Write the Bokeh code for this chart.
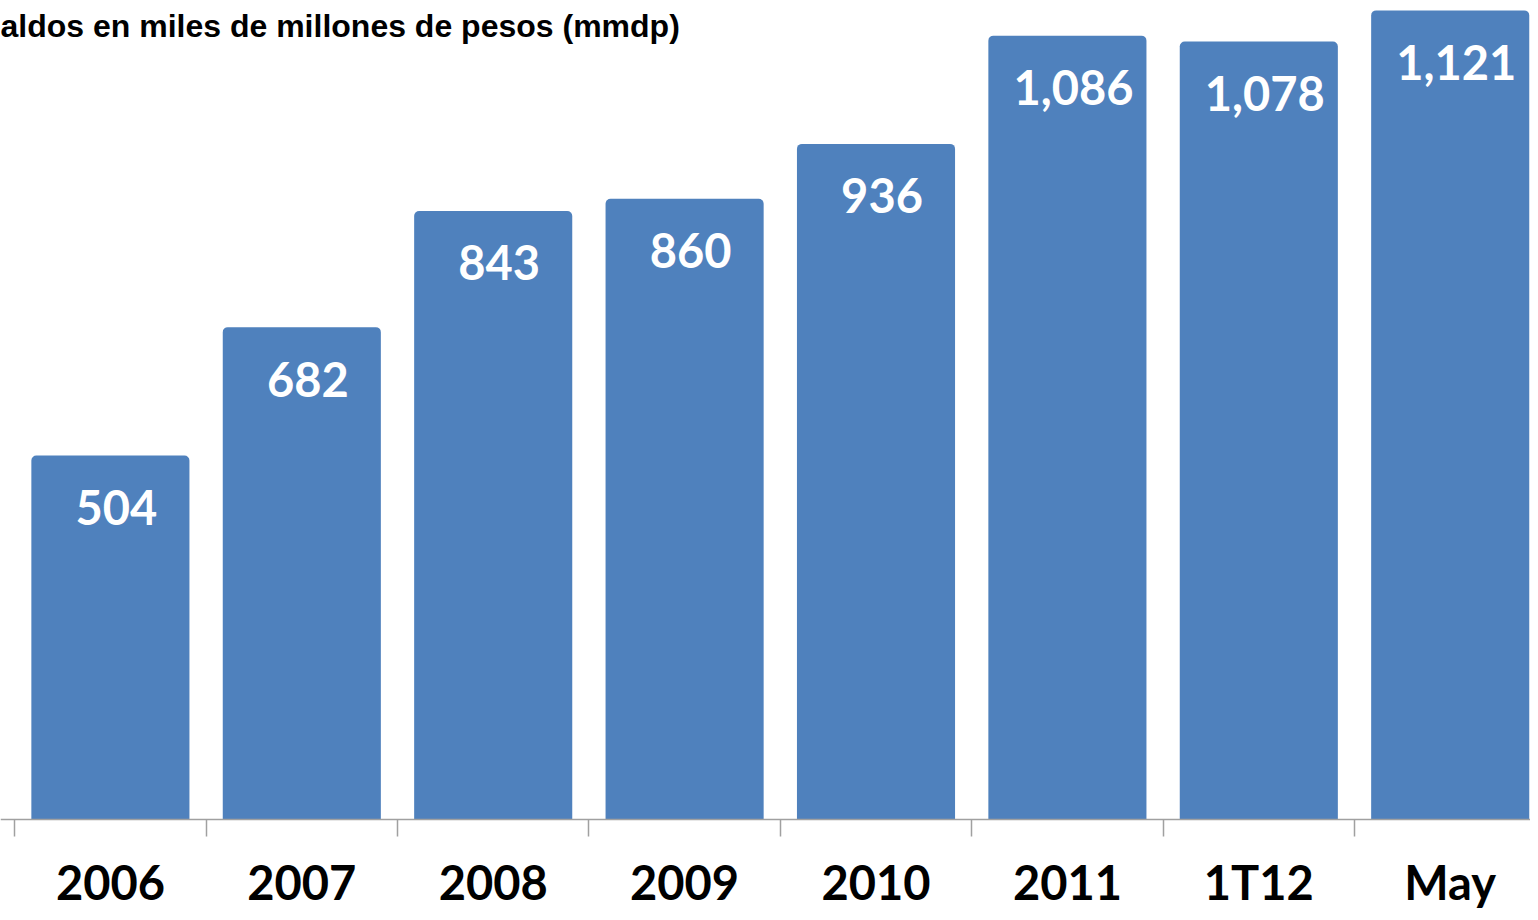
from bokeh.plotting import figure
from bokeh.models import ColumnDataSource, FixedTicker, Range1d
from bokeh.core.properties import value
from bokeh.embed import file_html
from bokeh.resources import INLINE

categories = ["2006", "2007", "2008", "2009", "2010", "2011", "1T12", "May"]
saldos = [504, 682, 843, 860, 936, 1086, 1078, 1121]
value_labels = ["504", "682", "843", "860", "936", "1,086", "1,078", "1,121"]
title_text = "aldos en miles de millones de pesos (mmdp)"

xs = list(range(len(categories)))
src = ColumnDataSource(dict(x=xs, top=saldos, lab=value_labels))

W, H = 1530, 912
X0, X1 = -0.5742, 7.4195
Y0, Y1 = -129.2, 1134.7
p = figure(width=W, height=H, output_backend="svg", toolbar_location=None,
           x_range=Range1d(X0, X1), y_range=Range1d(Y0, Y1),
           min_border_left=0, min_border_right=0, min_border_top=0,
           min_border_bottom=0)
p.outline_line_color = None
p.background_fill_color = "white"
p.border_fill_color = "white"
p.xgrid.visible = False
p.ygrid.visible = False
p.yaxis.visible = False

p.vbar(x="x", top="top", bottom=0, width=0.826, source=src,
       fill_color="#4F81BD", line_color=None, border_radius=(5, 5, 0, 0))

p.text(x="x", y="top", text="lab", source=src, text_color="white",
       text_font=value("Lato"), text_font_style="bold", text_font_size="47px",
       text_align="center", text_baseline="middle", x_offset=6, y_offset=52)

# title (partially cropped at left in the original)
p.text(x=[X0], y=[1098.7], text=[title_text], text_color="black",
       text_font=value("Liberation Sans"), text_font_style="bold",
       text_font_size="32px", text_align="left", text_baseline="middle")

ax = p.xaxis[0]
ax.fixed_location = 0
ax.ticker = FixedTicker(ticks=xs, minor_ticks=[i - 0.5 for i in range(len(categories) + 1)])
ax.major_label_overrides = {i: c for i, c in enumerate(categories)}
ax.major_tick_line_color = None
ax.major_tick_out = 0
ax.major_tick_in = 0
ax.minor_tick_out = 17
ax.minor_tick_in = 0
ax.minor_tick_line_color = "#A0A0A0"
ax.minor_tick_line_width = 1.5
ax.axis_line_color = "#A0A0A0"
ax.axis_line_width = 1.5
ax.major_label_text_font = "Lato"
ax.major_label_text_font_style = "bold"
ax.major_label_text_font_size = "47px"
ax.major_label_text_color = "black"
ax.major_label_standoff = 18

open("out.html", "w").write(file_html(p, INLINE))
